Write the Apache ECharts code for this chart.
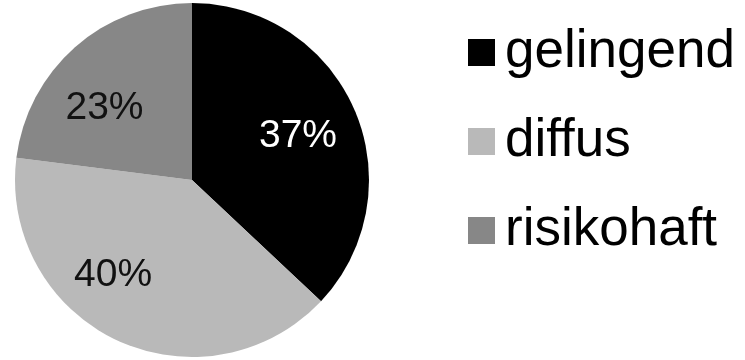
<!DOCTYPE html>
<html>
<head>
<meta charset="utf-8">
<script src="https://cdn.jsdelivr.net/npm/echarts@6/dist/echarts.min.js"></script>
<style>
  html, body { margin: 0; padding: 0; background: #ffffff; }
  #chart { width: 745px; height: 360px; }
</style>
</head>
<body>
<div id="chart"></div>
<script>
// Category names, shares (in %) and slice colours
const categories = ['gelingend', 'diffus', 'risikohaft'];
const shares = [37, 40, 23];
const sliceColors = ['#000000', '#b9b9b9', '#878787'];
const labelColors = ['#ffffff', '#111111', '#111111'];
// Nudges for each in-slice percentage label
const labelOffsets = [[22, -7], [-40, 12], [-27, -3]];

const chart = echarts.init(document.getElementById('chart'), null, { renderer: 'canvas' });

const seriesData = categories.map((name, i) => ({
  name: name,
  value: shares[i],
  itemStyle: { color: sliceColors[i] },
  label: { color: labelColors[i], offset: labelOffsets[i] }
}));

chart.setOption({
  animation: false,
  backgroundColor: '#ffffff',
  legend: {
    orient: 'vertical',
    left: 463,
    top: 21,
    itemWidth: 27,
    itemHeight: 27,
    itemGap: 36,
    icon: 'rect',
    selectedMode: false,
    textStyle: {
      fontFamily: '"Liberation Sans", Arial, sans-serif',
      fontSize: 53,
      color: '#000000',
      padding: [0, 0, 0, 5]
    },
    data: categories
  },
  series: [{
    type: 'pie',
    center: [192, 180],
    radius: 177,
    startAngle: 90,
    clockwise: true,
    silent: true,
    label: {
      show: true,
      position: 'inside',
      formatter: '{c}%',
      fontFamily: '"Liberation Sans", Arial, sans-serif',
      fontSize: 39,
      fontWeight: 'normal',
      textBorderWidth: 0
    },
    labelLine: { show: false },
    itemStyle: { borderWidth: 0 },
    emphasis: { disabled: true },
    data: seriesData
  }]
});
</script>
</body>
</html>
